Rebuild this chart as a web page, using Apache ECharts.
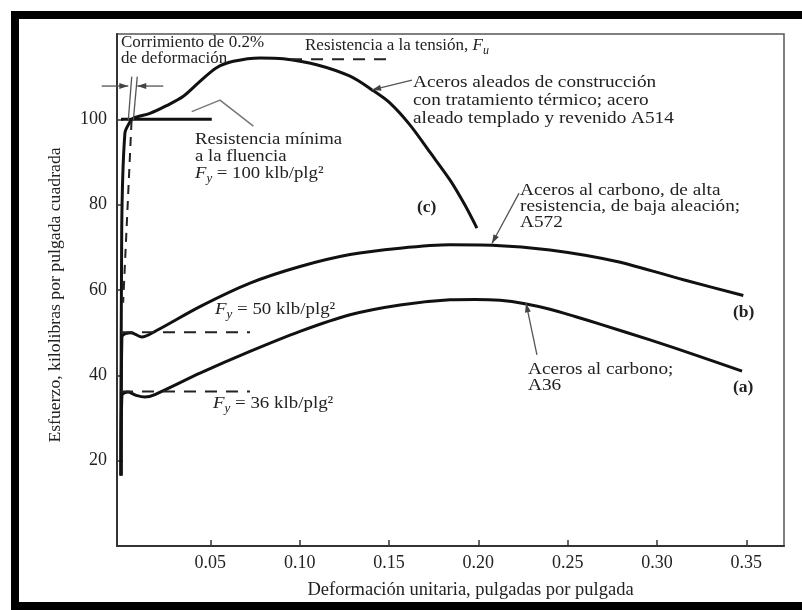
<!DOCTYPE html>
<html><head><meta charset="utf-8">
<script src="https://cdn.jsdelivr.net/npm/echarts@6/dist/echarts.min.js"></script>
<style>html,body{margin:0;padding:0;background:#fff;overflow:hidden}#c{width:802px;height:610px}</style>
</head><body><div id="c"></div><script>
// ---- data ----
const strainTicks = [0.05, 0.10, 0.15, 0.20, 0.25, 0.30, 0.35];
const stressTicks = [20, 40, 60, 80, 100];
// (a) A36
const curveA36 = [[0,16.5],[0.0005,35.3],[0.004,36.1],[0.0085,35.3],[0.0134,34.9],[0.019,35.5],[0.0442,40.5],[0.0722,45.6],[0.1002,50.3],[0.1282,54.2],[0.1562,56.5],[0.1841,57.7],[0.1981,57.8],[0.2121,57.6],[0.2261,56.8],[0.2401,55.5],[0.2541,53.8],[0.2681,52.0],[0.2961,48.3],[0.3241,44.4],[0.3476,41.0]];
// (b) A572
const curveA572 = [[0,16.5],[0.0005,49.0],[0.0056,50.0],[0.0115,49.0],[0.0199,50.5],[0.0442,56.1],[0.0722,61.6],[0.1002,65.5],[0.1282,68.3],[0.1562,69.8],[0.1841,70.6],[0.2076,70.5],[0.2401,69.4],[0.2775,66.7],[0.3148,62.4],[0.3483,58.7]];
// (c) A514
const curveA514 = [[0,16.5],[0.0004,74],[0.0022,96.8],[0.005,99.4],[0.0069,100.3],[0.0162,101.4],[0.0255,103.2],[0.0349,105.4],[0.0442,108.9],[0.0535,112.1],[0.0629,113.6],[0.0778,114.4],[0.0908,114.2],[0.1095,112.8],[0.1282,110.1],[0.1405,106.9],[0.1506,103.8],[0.1617,98.7],[0.1729,92.3],[0.1841,85.8],[0.1925,79.9],[0.1992,74.5]];
const yieldPlateau100 = [[0,100],[0.0508,100]];
const yieldLineA572 = [[0,50.1],[0.0722,50.1]];
const yieldLineA36 = [[0,36.2],[0.0722,36.2]];
const ultimateLineA514 = [[0.0946,114.1],[0.1522,114.1]];
const offsetLine02 = [[0.0059,99.6],[0.0012,57]];
// annotation leaders [from, to] in data units
const arrowLeaders = [
  [[-0.0108,107.8],[0.0041,107.8]],
  [[0.0237,107.8],[0.0091,107.8]],
  [[0.1629,109.2],[0.1405,106.9]],
  [[0.2228,82.7],[0.2076,70.9]],
  [[0.2328,44.8],[0.2267,56.9]]
];
const plainLeaders = [
  [[0.0060,110.0],[0.0041,99.8]],
  [[0.0091,110.0],[0.0069,99.8]]
];
const yieldPointer = [[0.0396,101.8],[0.0554,104.5],[0.0741,98.4]];

const FF = "'Liberation Serif','Times New Roman',serif";
const TXT = '#222';
const chart = echarts.init(document.getElementById('c'), null, {renderer:'canvas', width:802, height:610});

function lineSeries(name, data, opt) {
  return Object.assign({
    name, type:'line', data, showSymbol:false, symbol:'none', silent:true,
    lineStyle:{color:'#111', width:3}, z:3, animation:false, clip:false
  }, opt||{});
}
function richFor(fs) {
  return {
    n:{fontFamily:FF, fontSize:fs, fill:TXT, color:TXT},
    i:{fontFamily:FF, fontSize:fs, fontStyle:'italic', fill:TXT, color:TXT},
    s:{fontFamily:FF, fontSize:Math.round(fs*0.7), fontStyle:'italic', fill:TXT, color:TXT, padding:[10,0,0,0]}
  };
}
function txt(text, x, y, extra, sx) {
  const fs = (extra && extra.fontSize) || 17.5;
  return {type:'text', x, y, z:10, silent:true, scaleX: sx || 1,
    style:Object.assign({text, fill:TXT, fontFamily:FF, fontSize:fs, textAlign:'left', textVerticalAlign:'top', lineHeight:17, rich:richFor(fs)}, extra||{})};
}

chart.setOption({
  animation:false,
  backgroundColor:'#fff',
  grid:{left:117, right:18, top:34, bottom:64, show:true, borderColor:'#555', borderWidth:1.5, backgroundColor:'transparent'},
  xAxis:{
    type:'value', min:-0.00224, max:0.37108,
    name:'Deformación unitaria, pulgadas por pulgada', nameLocation:'middle', nameGap:35,
    nameTextStyle:{fontFamily:FF, fontSize:18.5, color:TXT, padding:[0,0,0,40]},
    axisLine:{show:true, onZero:false, lineStyle:{color:'#333', width:2}},
    axisTick:{show:true, inside:true, length:6, customValues:strainTicks, lineStyle:{color:'#333', width:1.5}},
    axisLabel:{customValues:strainTicks, formatter:v=>v.toFixed(2), margin:8, fontFamily:FF, fontSize:18, color:TXT},
    splitLine:{show:false}
  },
  yAxis:{
    type:'value', min:0, max:120,
    name:'Esfuerzo, kilolibras por pulgada cuadrada', nameLocation:'middle', nameGap:53,
    nameTextStyle:{fontFamily:FF, fontSize:17.7, color:TXT, padding:[0,10,0,0]},
    axisLine:{show:true, onZero:false, lineStyle:{color:'#333', width:2}},
    axisTick:{show:true, inside:true, length:6, customValues:stressTicks, lineStyle:{color:'#333', width:1.5}},
    axisLabel:{customValues:stressTicks, margin:10, fontFamily:FF, fontSize:18, color:TXT},
    splitLine:{show:false}
  },
  series:[
    lineSeries('A36', curveA36, {smooth:0.3}),
    lineSeries('A572', curveA572, {smooth:0.3}),
    lineSeries('A514', curveA514, {smooth:0.3}),
    lineSeries('Fy = 100', yieldPlateau100),
    lineSeries('Fy = 50', yieldLineA572, {lineStyle:{color:'#222', width:2, type:[12,9]}}),
    lineSeries('Fy = 36', yieldLineA36, {lineStyle:{color:'#222', width:2, type:[12,9]}}),
    lineSeries('Fu', ultimateLineA514, {lineStyle:{color:'#222', width:2, type:[12,9]}}),
    lineSeries('0.2% offset', offsetLine02, {lineStyle:{color:'#222', width:2, type:[9,7]}}),
    lineSeries('yield pointer', yieldPointer, {lineStyle:{color:'#777', width:1.5}})
  ]
});

// leader lines and arrowheads placed through the chart's own scales
const toPx = c => chart.convertToPixel({xAxisIndex:0, yAxisIndex:0}, c);
const leaderGraphics = [];
function addLeader(pair, arrow) {
  const a = toPx(pair[0]), b = toPx(pair[1]);
  leaderGraphics.push({type:'line', z:9, silent:true, shape:{x1:a[0], y1:a[1], x2:b[0], y2:b[1]}, style:{stroke:'#555', lineWidth:1.3}});
  if (arrow) {
    const dx = b[0]-a[0], dy = b[1]-a[1], L = Math.hypot(dx, dy);
    const ux = dx/L, uy = dy/L, len = 9, w = 3;
    const bx = b[0]-ux*len, by = b[1]-uy*len;
    leaderGraphics.push({type:'polygon', z:9, silent:true,
      shape:{points:[[b[0],b[1]],[bx-uy*w, by+ux*w],[bx+uy*w, by-ux*w]]}, style:{fill:'#444'}});
  }
}
arrowLeaders.forEach(p => addLeader(p, true));
plainLeaders.forEach(p => addLeader(p, false));

chart.setOption({
  graphic: [
    {type:'rect', z:19, silent:true, shape:{x:787, y:19, width:15, height:583}, style:{fill:'#fff'}},
    {type:'rect', z:20, silent:true, shape:{x:11, y:11, width:791, height:8}, style:{fill:'#000'}},
    {type:'rect', z:20, silent:true, shape:{x:11, y:11, width:8, height:599}, style:{fill:'#000'}},
    {type:'rect', z:20, silent:true, shape:{x:11, y:602, width:791, height:8}, style:{fill:'#000'}},
    txt('Corrimiento de 0.2%\nde deformación', 121, 35, {fontSize:17, lineHeight:16}),
    txt('{n|Resistencia a la tensión, }{i|F}{s|u}', 305, 37, {fontSize:17}),
    txt('Aceros aleados de construcción\ncon tratamiento térmico; acero\naleado templado y revenido A514', 413, 74, {lineHeight:17.6}, 1.1),
    txt('Resistencia mínima\na la fluencia', 195, 131, {lineHeight:17}, 1.07),
    txt('{i|F}{s|y}{n| = 100 klb/plg²}', 195, 165, null, 1.07),
    txt('(c)', 417, 199, {fontWeight:'bold'}),
    txt('Aceros al carbono, de alta\nresistencia, de baja aleación;\nA572', 520, 182, {lineHeight:16}, 1.1),
    txt('{i|F}{s|y}{n| = 50 klb/plg²}', 215, 301, null, 1.08),
    txt('(b)', 733, 304, {fontWeight:'bold'}),
    txt('Aceros al carbono;\nA36', 528, 362, {lineHeight:15.5}, 1.1),
    txt('(a)', 733, 379, {fontWeight:'bold'}),
    txt('{i|F}{s|y}{n| = 36 klb/plg²}', 213, 395, null, 1.08)
  ].concat(leaderGraphics)
});
</script></body></html>
